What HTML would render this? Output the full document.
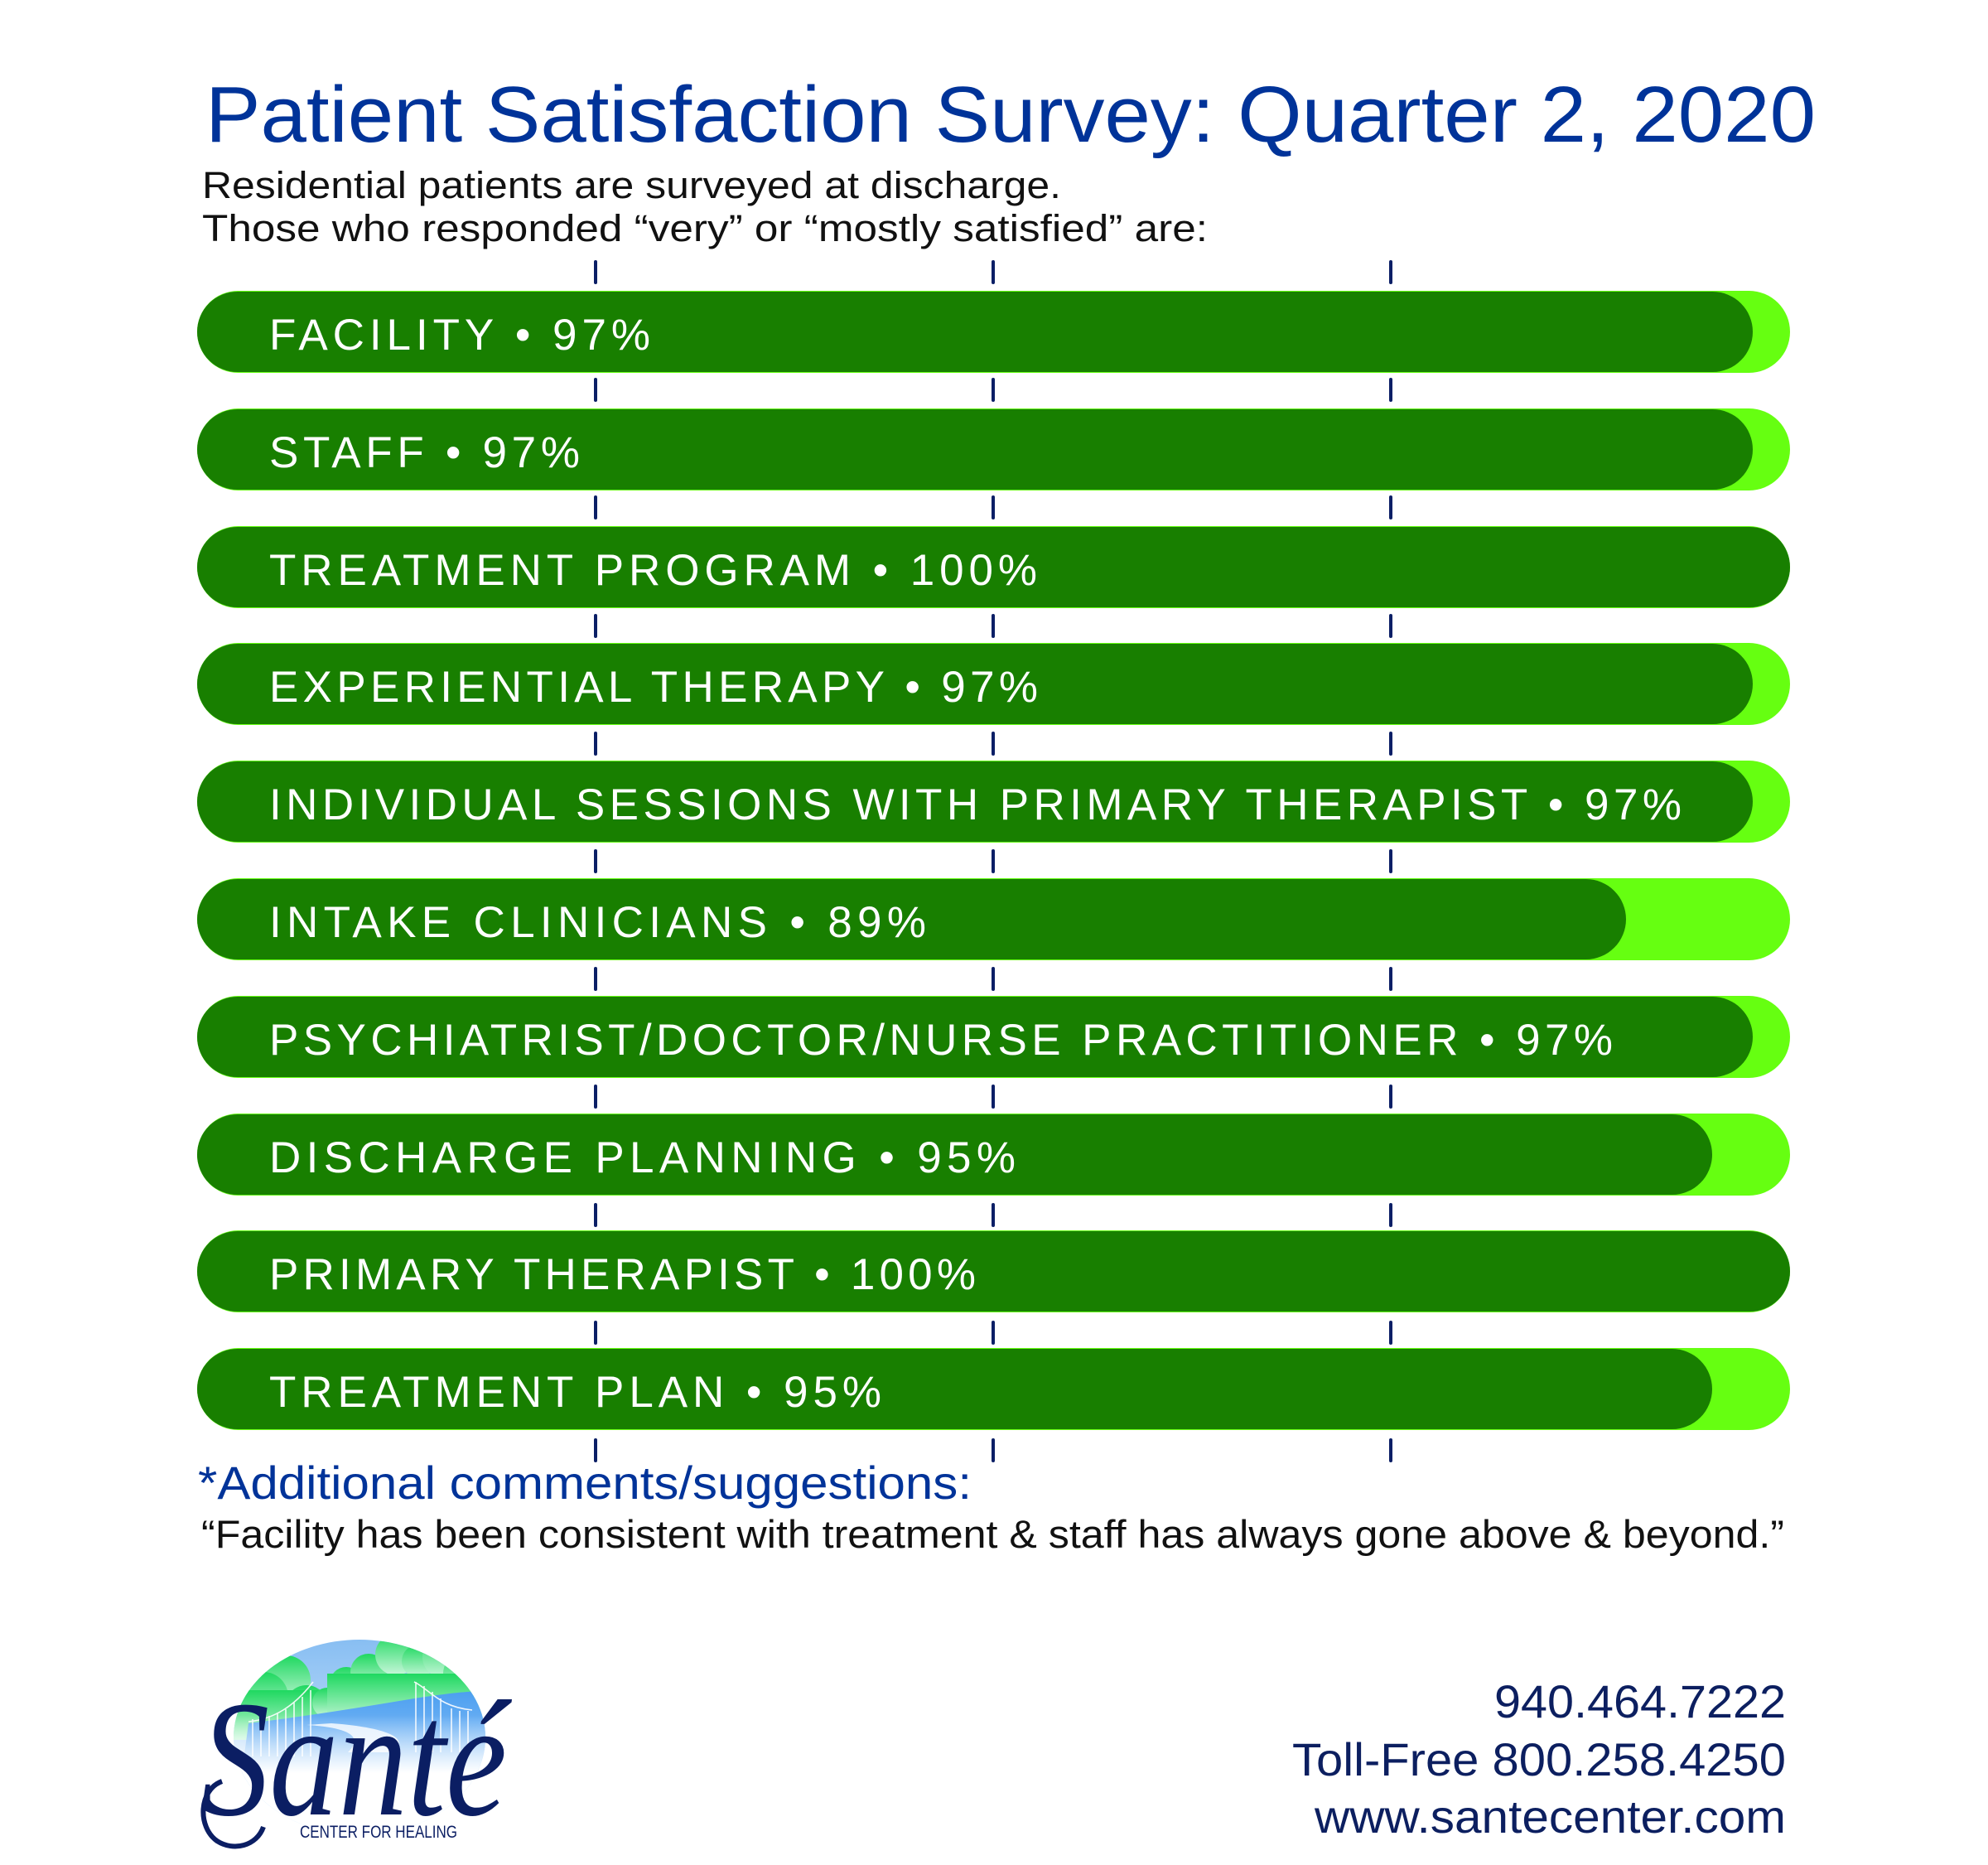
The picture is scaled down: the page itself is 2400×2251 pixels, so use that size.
<!DOCTYPE html>
<html>
<head>
<meta charset="utf-8">
<style>
  html,body{margin:0;padding:0;background:#ffffff;}
  svg{display:block;}
</style>
</head>
<body>
<svg width="2400" height="2251" viewBox="0 0 2400 2251" xmlns="http://www.w3.org/2000/svg">
  <defs>
    <clipPath id="ell">
      <ellipse cx="434" cy="2097" rx="152" ry="118"/>
    </clipPath>
    <linearGradient id="sky" x1="0" y1="0" x2="0" y2="1">
      <stop offset="0" stop-color="#86bdf2"/>
      <stop offset="1" stop-color="#eef7ff"/>
    </linearGradient>
    <linearGradient id="bush" x1="0" y1="0" x2="0" y2="1">
      <stop offset="0" stop-color="#1fd860"/>
      <stop offset="1" stop-color="#c8f7da"/>
    </linearGradient>
    <linearGradient id="hill" x1="0" y1="0" x2="0" y2="1">
      <stop offset="0" stop-color="#4c9ff0"/>
      <stop offset="1" stop-color="#d6eaff"/>
    </linearGradient>
    <linearGradient id="fade" x1="0" y1="0" x2="0" y2="1">
      <stop offset="0" stop-color="#ffffff" stop-opacity="0"/>
      <stop offset="1" stop-color="#ffffff" stop-opacity="1"/>
    </linearGradient>
  </defs>

  <rect x="0" y="0" width="2400" height="2251" fill="#ffffff"/>

  <!-- Title -->
  <text x="248" y="171" font-family="Liberation Sans, sans-serif" font-size="96" fill="#003399" textLength="1944" lengthAdjust="spacingAndGlyphs">Patient Satisfaction Survey: Quarter 2, 2020</text>
  <text x="244" y="239" font-family="Liberation Sans, sans-serif" font-size="45" fill="#111111" textLength="1037" lengthAdjust="spacingAndGlyphs">Residential patients are surveyed at discharge.</text>
  <text x="244" y="291" font-family="Liberation Sans, sans-serif" font-size="45" fill="#111111" textLength="1214" lengthAdjust="spacingAndGlyphs">Those who responded “very” or “mostly satisfied” are:</text>

  <!-- Ticks -->
  <g stroke="#0b1f66" stroke-width="4" stroke-linecap="round">
    <line x1="719" y1="316" x2="719" y2="341"/><line x1="1199" y1="316" x2="1199" y2="341"/><line x1="1679" y1="316" x2="1679" y2="341"/>
    <line x1="719" y1="458" x2="719" y2="483"/><line x1="1199" y1="458" x2="1199" y2="483"/><line x1="1679" y1="458" x2="1679" y2="483"/>
    <line x1="719" y1="600" x2="719" y2="625"/><line x1="1199" y1="600" x2="1199" y2="625"/><line x1="1679" y1="600" x2="1679" y2="625"/>
    <line x1="719" y1="743" x2="719" y2="768"/><line x1="1199" y1="743" x2="1199" y2="768"/><line x1="1679" y1="743" x2="1679" y2="768"/>
    <line x1="719" y1="885" x2="719" y2="910"/><line x1="1199" y1="885" x2="1199" y2="910"/><line x1="1679" y1="885" x2="1679" y2="910"/>
    <line x1="719" y1="1027" x2="719" y2="1052"/><line x1="1199" y1="1027" x2="1199" y2="1052"/><line x1="1679" y1="1027" x2="1679" y2="1052"/>
    <line x1="719" y1="1169" x2="719" y2="1194"/><line x1="1199" y1="1169" x2="1199" y2="1194"/><line x1="1679" y1="1169" x2="1679" y2="1194"/>
    <line x1="719" y1="1311" x2="719" y2="1336"/><line x1="1199" y1="1311" x2="1199" y2="1336"/><line x1="1679" y1="1311" x2="1679" y2="1336"/>
    <line x1="719" y1="1454" x2="719" y2="1479"/><line x1="1199" y1="1454" x2="1199" y2="1479"/><line x1="1679" y1="1454" x2="1679" y2="1479"/>
    <line x1="719" y1="1596" x2="719" y2="1621"/><line x1="1199" y1="1596" x2="1199" y2="1621"/><line x1="1679" y1="1596" x2="1679" y2="1621"/>
    <line x1="719" y1="1738" x2="719" y2="1763"/><line x1="1199" y1="1738" x2="1199" y2="1763"/><line x1="1679" y1="1738" x2="1679" y2="1763"/>
  </g>

  <!-- Bars -->
  <g>
    <!-- 1 -->
    <rect x="238" y="351" width="1923" height="99" rx="49.5" fill="#66ff11"/>
    <rect x="238" y="352" width="1878" height="97" rx="48.5" fill="#187f00"/>
    <!-- 2 -->
    <rect x="238" y="493" width="1923" height="99" rx="49.5" fill="#66ff11"/>
    <rect x="238" y="494" width="1878" height="97" rx="48.5" fill="#187f00"/>
    <!-- 3 -->
    <rect x="238" y="635" width="1923" height="99" rx="49.5" fill="#66ff11"/>
    <rect x="238" y="636" width="1923" height="97" rx="48.5" fill="#187f00"/>
    <!-- 4 -->
    <rect x="238" y="776" width="1923" height="99" rx="49.5" fill="#66ff11"/>
    <rect x="238" y="777" width="1878" height="97" rx="48.5" fill="#187f00"/>
    <!-- 5 -->
    <rect x="238" y="918" width="1923" height="99" rx="49.5" fill="#66ff11"/>
    <rect x="238" y="919" width="1878" height="97" rx="48.5" fill="#187f00"/>
    <!-- 6 -->
    <rect x="238" y="1060" width="1923" height="99" rx="49.5" fill="#66ff11"/>
    <rect x="238" y="1061" width="1725" height="97" rx="48.5" fill="#187f00"/>
    <!-- 7 -->
    <rect x="238" y="1202" width="1923" height="99" rx="49.5" fill="#66ff11"/>
    <rect x="238" y="1203" width="1878" height="97" rx="48.5" fill="#187f00"/>
    <!-- 8 -->
    <rect x="238" y="1344" width="1923" height="99" rx="49.5" fill="#66ff11"/>
    <rect x="238" y="1345" width="1829" height="97" rx="48.5" fill="#187f00"/>
    <!-- 9 -->
    <rect x="238" y="1485" width="1923" height="99" rx="49.5" fill="#66ff11"/>
    <rect x="238" y="1486" width="1923" height="97" rx="48.5" fill="#187f00"/>
    <!-- 10 -->
    <rect x="238" y="1627" width="1923" height="99" rx="49.5" fill="#66ff11"/>
    <rect x="238" y="1628" width="1829" height="97" rx="48.5" fill="#187f00"/>
  </g>

  <!-- Bar labels -->
  <g font-family="Liberation Sans, sans-serif" font-size="53" fill="#ffffff">
    <text x="325" y="422" textLength="460" lengthAdjust="spacing">FACILITY • 97%</text>
    <text x="325" y="564" textLength="375" lengthAdjust="spacing">STAFF • 97%</text>
    <text x="325" y="706" textLength="927" lengthAdjust="spacing">TREATMENT PROGRAM • 100%</text>
    <text x="325" y="847" textLength="928" lengthAdjust="spacing">EXPERIENTIAL THERAPY • 97%</text>
    <text x="325" y="989" textLength="1705" lengthAdjust="spacing">INDIVIDUAL SESSIONS WITH PRIMARY THERAPIST • 97%</text>
    <text x="325" y="1131" textLength="793" lengthAdjust="spacing">INTAKE CLINICIANS • 89%</text>
    <text x="325" y="1273" textLength="1622" lengthAdjust="spacing">PSYCHIATRIST/DOCTOR/NURSE PRACTITIONER • 97%</text>
    <text x="325" y="1415" textLength="901" lengthAdjust="spacing">DISCHARGE PLANNING • 95%</text>
    <text x="325" y="1556" textLength="853" lengthAdjust="spacing">PRIMARY THERAPIST • 100%</text>
    <text x="325" y="1698" textLength="739" lengthAdjust="spacing">TREATMENT PLAN • 95%</text>
  </g>

  <!-- Comments -->
  <text x="239" y="1809" font-family="Liberation Sans, sans-serif" font-size="56" fill="#003399" textLength="934" lengthAdjust="spacingAndGlyphs">*Additional comments/suggestions:</text>
  <text x="243" y="1868" font-family="Liberation Sans, sans-serif" font-size="47" fill="#111111" textLength="1911" lengthAdjust="spacingAndGlyphs">“Facility has been consistent with treatment &amp; staff has always gone above &amp; beyond.”</text>

  <!-- Logo -->
  <g clip-path="url(#ell)">
    <rect x="280" y="1975" width="310" height="250" fill="url(#sky)"/>
    <!-- left bush -->
    <g fill="url(#bush)">
      <circle cx="345" cy="2028" r="30"/>
      <circle cx="318" cy="2048" r="30"/>
      <circle cx="370" cy="2060" r="26"/>
      <rect x="280" y="2040" width="120" height="60"/>
      <!-- center/right bushes -->
      <circle cx="418" cy="2032" r="20"/>
      <circle cx="445" cy="2018" r="22"/>
      <circle cx="478" cy="1997" r="25"/>
      <circle cx="505" cy="2005" r="20"/>
      <circle cx="535" cy="2000" r="25"/>
      <circle cx="560" cy="2020" r="25"/>
      <circle cx="395" cy="2055" r="18"/>
      <circle cx="420" cy="2058" r="18"/>
      <rect x="395" y="2020" width="195" height="60"/>
    </g>
    <!-- blue hill -->
    <path d="M300 2080 C380 2070 440 2060 500 2050 C540 2044 570 2040 590 2042 L590 2230 L280 2230 Z" fill="url(#hill)"/>
    <!-- road -->
    <path d="M370 2082 C420 2085 440 2095 420 2115 L470 2115 C500 2100 470 2085 400 2080 Z" fill="#ffffff" opacity="0.8"/>
    <!-- gates -->
    <g stroke="#ffffff" stroke-width="1.6" fill="none" opacity="0.9">
      <path d="M305 2075 L305 2120 M315 2073 L315 2120 M325 2071 L325 2120 M335 2068 L335 2120 M345 2063 L345 2120 M355 2055 L355 2120 M365 2048 L365 2120 M375 2040 L375 2120"/>
      <path d="M300 2078 C330 2075 355 2060 378 2030"/>
      <path d="M502 2030 L502 2115 M512 2035 L512 2115 M522 2042 L522 2115 M532 2050 L532 2115 M545 2062 L545 2115 M555 2065 L555 2115 M565 2065 L565 2115"/>
      <path d="M500 2030 C520 2040 530 2060 570 2064"/>
    </g>
    <rect x="280" y="2070" width="310" height="70" fill="url(#fade)"/>
    <rect x="280" y="2140" width="310" height="100" fill="#ffffff"/>
  </g>
  <text x="242" y="2190" font-family="Liberation Serif, serif" font-style="italic" font-size="200" fill="#0b1e63" textLength="370" lengthAdjust="spacingAndGlyphs">Santé</text>
  <path d="M268 2150 C240 2160 238 2205 262 2222 C282 2235 310 2228 318 2205" stroke="#0b1e63" stroke-width="6" fill="none"/>
  <text x="362" y="2218" font-family="Liberation Sans, sans-serif" font-size="21" fill="#0b1e63" textLength="190" lengthAdjust="spacingAndGlyphs">CENTER FOR HEALING</text>

  <!-- Contact -->
  <g font-family="Liberation Sans, sans-serif" font-size="56" fill="#0c1f60">
    <text x="1804" y="2073" textLength="352" lengthAdjust="spacingAndGlyphs">940.464.7222</text>
    <text x="1560" y="2143" textLength="596" lengthAdjust="spacingAndGlyphs">Toll-Free 800.258.4250</text>
    <text x="1587" y="2212" textLength="569" lengthAdjust="spacingAndGlyphs">www.santecenter.com</text>
  </g>
</svg>
</body>
</html>
